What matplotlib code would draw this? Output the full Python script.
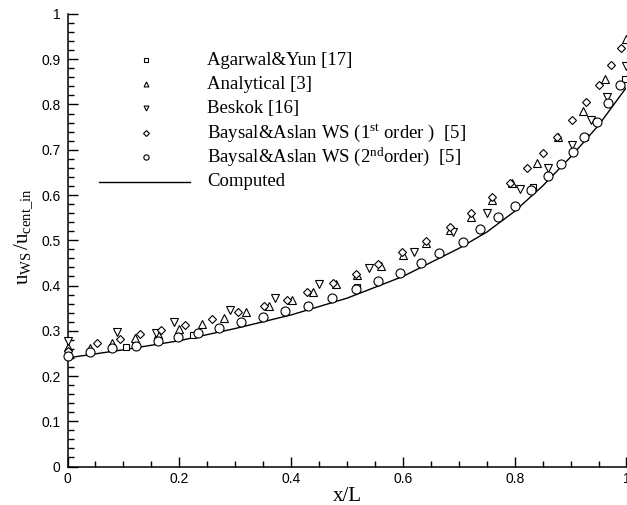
import matplotlib
matplotlib.use('Agg')
import matplotlib.pyplot as plt
from matplotlib.ticker import MultipleLocator

plt.rcParams['mathtext.fontset'] = 'custom'
plt.rcParams['mathtext.rm'] = 'Liberation Serif'
plt.rcParams['mathtext.it'] = 'Liberation Serif:italic'

# Computed curve
comp_x = [0.0, 0.1, 0.2, 0.3, 0.4, 0.5, 0.6, 0.7, 0.75, 0.8, 0.85, 0.9, 0.95, 1.0]
comp_y = [0.240, 0.258, 0.278, 0.305, 0.335, 0.372, 0.420, 0.482, 0.518, 0.564, 0.620, 0.684, 0.754, 0.838]

# Agarwal&Yun [17]
agar_x = [0.0, 0.105, 0.225, 0.389, 0.517, 0.707, 0.833, 0.925, 0.997]
agar_y = [0.250, 0.264, 0.290, 0.344, 0.397, 0.497, 0.618, 0.729, 0.856]

# Analytical [3]
anal_x = [0.0, 0.040, 0.079, 0.121, 0.161, 0.200, 0.240, 0.280, 0.319, 0.361, 0.401, 0.440,
          0.480, 0.518, 0.561, 0.601, 0.641, 0.685, 0.721, 0.760, 0.796, 0.840, 0.878, 0.922,
          0.961, 1.0]
anal_y = [0.265, 0.262, 0.274, 0.283, 0.293, 0.303, 0.315, 0.328, 0.342, 0.355, 0.369, 0.385,
          0.403, 0.423, 0.443, 0.467, 0.493, 0.523, 0.552, 0.589, 0.627, 0.671, 0.728, 0.786,
          0.856, 0.944]

# Beskok [16]
besk_x = [0.0, 0.089, 0.158, 0.191, 0.291, 0.371, 0.450, 0.540, 0.620, 0.690, 0.751, 0.809,
          0.860, 0.902, 0.936, 0.966, 1.0]
besk_y = [0.278, 0.297, 0.296, 0.320, 0.346, 0.373, 0.403, 0.438, 0.473, 0.519, 0.560, 0.613,
          0.660, 0.711, 0.766, 0.817, 0.884]

# Baysal&Aslan WS (1st order) [5]
bay1_x = [0.0, 0.052, 0.093, 0.130, 0.168, 0.210, 0.258, 0.305, 0.351, 0.392, 0.429, 0.475,
          0.516, 0.556, 0.599, 0.641, 0.684, 0.721, 0.759, 0.791, 0.822, 0.851, 0.875, 0.902,
          0.927, 0.951, 0.972, 0.990]
bay1_y = [0.255, 0.274, 0.282, 0.293, 0.302, 0.313, 0.326, 0.341, 0.355, 0.369, 0.385, 0.405,
          0.425, 0.447, 0.473, 0.498, 0.530, 0.560, 0.595, 0.627, 0.659, 0.692, 0.729, 0.766,
          0.806, 0.843, 0.887, 0.924]

# Baysal&Aslan WS (2nd order) [5]
bay2_x = [0.0, 0.040, 0.079, 0.123, 0.161, 0.198, 0.234, 0.271, 0.310, 0.350, 0.389, 0.431,
          0.474, 0.516, 0.555, 0.595, 0.632, 0.665, 0.707, 0.738, 0.770, 0.800, 0.830, 0.860,
          0.882, 0.905, 0.924, 0.948, 0.967, 0.989]
bay2_y = [0.245, 0.253, 0.263, 0.267, 0.277, 0.287, 0.294, 0.307, 0.320, 0.331, 0.344, 0.355,
          0.372, 0.392, 0.410, 0.428, 0.449, 0.471, 0.497, 0.524, 0.552, 0.576, 0.610, 0.642,
          0.668, 0.696, 0.729, 0.762, 0.803, 0.843]

labels = ['Agarwal&Yun [17]', 'Analytical [3]', 'Beskok [16]',
          r'Baysal&Aslan WS (1$^{\rm st}$ order )  [5]',
          r'Baysal&Aslan WS (2$^{\rm nd}$order)  [5]',
          'Computed']

fig = plt.figure(figsize=(6.27, 5.05), dpi=100)
ax = fig.add_axes([0.1077, 0.0762, 0.8915, 0.8961])

mk = dict(ls='none', mfc='white', mec='black', mew=0.8, clip_on=False)
series = [(agar_x, agar_y, 's', 3.8, 2.8),
          (anal_x, anal_y, '^', 5.5, 3.5),
          (besk_x, besk_y, 'v', 5.5, 3.5),
          (bay1_x, bay1_y, 'D', 4.5, 3.0),
          (bay2_x, bay2_y, 'o', 6.5, 3.8)]

ax.plot(comp_x, comp_y, color='black', lw=1.0, zorder=2)
for xs, ys, m, ms, _ in series:
    ax.plot(xs, ys, marker=m, ms=ms, zorder=3, **mk)

# legend drawn by hand to match layout
rows = [0.898, 0.845, 0.792, 0.737, 0.684, 0.629]
for (xs, ys, m, ms, lms), lab, ry in zip(series, labels, rows):
    ax.plot([0.140], [ry], marker=m, ms=lms, transform=ax.transAxes, **mk)
    ax.text(0.2495, ry, lab, transform=ax.transAxes, fontsize=13.5,
            family='Liberation Serif', va='center', ha='left')
ax.plot([0.0564, 0.219], [rows[5], rows[5]], color='black', lw=1.0, transform=ax.transAxes)
ax.text(0.2495, rows[5], labels[5], transform=ax.transAxes, fontsize=13.5,
        family='Liberation Serif', va='center', ha='left')

ax.set_xlim(0, 1)
ax.set_ylim(0, 1)
ax.xaxis.set_minor_locator(MultipleLocator(0.05))
ax.yaxis.set_minor_locator(MultipleLocator(0.02))
ax.set_xticks([0, 0.2, 0.4, 0.6, 0.8, 1.0])
ax.set_xticklabels(['0', '0.2', '0.4', '0.6', '0.8', '1'])
ax.set_yticks([i / 10 for i in range(11)])
ax.set_yticklabels(['0', '0.1', '0.2', '0.3', '0.4', '0.5', '0.6', '0.7', '0.8', '0.9', '1'])

for sp in ['top', 'right']:
    ax.spines[sp].set_visible(False)
for sp in ['left', 'bottom']:
    ax.spines[sp].set_linewidth(1.1)

ax.tick_params(which='both', direction='in', width=1.0, labelsize=10)
ax.tick_params(which='major', length=7.5)
ax.tick_params(which='minor', length=4.5)
ax.tick_params(axis='y', pad=5)
ax.tick_params(axis='x', pad=4)
for t in ax.get_xticklabels() + ax.get_yticklabels():
    t.set_family('Liberation Sans')

ax.set_xlabel('x/L', fontsize=15, family='Liberation Serif')
ax.xaxis.set_label_coords(0.5, -0.045)
ax.set_ylabel(r'u$_{\rm WS}\,$/u$_{\rm cent\_in}$', fontsize=15, family='Liberation Serif')
ax.yaxis.set_label_coords(-0.058, 0.507)

fig.savefig('out.png', dpi=100)
